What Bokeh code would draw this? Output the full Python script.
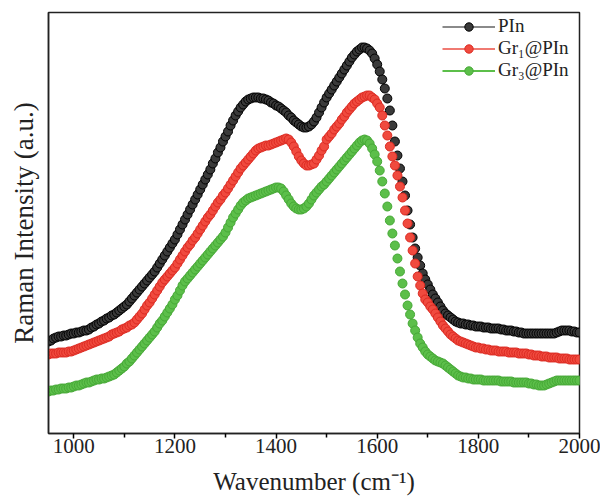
from bokeh.plotting import figure
from bokeh.models import Range1d, Legend, LegendItem, FixedTicker, ColumnDataSource
from bokeh.embed import file_html
from bokeh.resources import INLINE

# Wavenumber grid (cm^-1), one reading every 5 cm^-1
wavenumber = list(range(950, 2001, 5))

# Raman intensity (a.u.)
pin = [
    92, 93, 95, 96, 97, 97, 98, 98, 99, 100,
    100, 101, 101, 102, 103, 103, 104, 106, 107, 109,
    110, 112, 113, 115, 116, 118, 119, 121, 123, 125,
    127, 129, 132, 135, 138, 141, 144, 147, 150, 153,
    156, 159, 162, 166, 170, 174, 178, 182, 186, 190,
    194, 199, 204, 209, 214, 219, 224, 229, 234, 239,
    244, 249, 254, 259, 264, 270, 275, 281, 286, 292,
    297, 302, 308, 313, 318, 322, 326, 329, 332, 334,
    335, 336, 336, 336, 335, 335, 334, 333, 331, 330,
    328, 327, 325, 323, 321, 318, 316, 313, 311, 309,
    307, 306, 306, 307, 309, 312, 316, 321, 326, 331,
    336, 340, 344, 348, 352, 356, 360, 364, 368, 372,
    376, 379, 382, 384, 386, 386, 385, 383, 380, 375,
    369, 362, 354, 345, 335, 323, 308, 292, 278, 265,
    252, 238, 223, 209, 196, 185, 176, 168, 160, 154,
    149, 144, 139, 135, 131, 127, 123, 120, 118, 116,
    114, 112, 111, 110, 110, 109, 109, 108, 108, 107,
    107, 107, 106, 106, 106, 105, 105, 105, 105, 104,
    104, 103, 103, 103, 102, 102, 101, 101, 100, 100,
    100, 100, 100, 100, 100, 100, 100, 100, 100, 100,
    100, 101, 102, 103, 103, 103, 103, 102, 102, 101,
    101,
]

gr1_pin = [
    79, 80, 80, 80, 81, 81, 81, 81, 82, 82,
    83, 84, 85, 86, 87, 88, 89, 90, 91, 92,
    93, 94, 95, 96, 97, 99, 100, 101, 102, 104,
    105, 106, 108, 109, 111, 114, 117, 120, 124, 128,
    131, 135, 139, 143, 147, 151, 154, 157, 160, 163,
    166, 170, 174, 178, 182, 186, 189, 193, 196, 200,
    204, 208, 212, 216, 219, 223, 227, 231, 234, 238,
    241, 245, 249, 253, 257, 261, 265, 268, 271, 274,
    277, 280, 283, 285, 286, 287, 288, 288, 289, 290,
    291, 292, 293, 294, 295, 294, 291, 287, 282, 277,
    273, 270, 268, 268, 269, 270, 274, 278, 283, 287,
    294, 297, 300, 304, 307, 310, 314, 317, 321, 324,
    327, 330, 332, 334, 336, 337, 338, 338, 336, 334,
    330, 326, 318, 308, 298, 287, 277, 268, 258, 247,
    236, 223, 210, 196, 183, 170, 157, 148, 140, 134,
    131, 127, 124, 120, 116, 112, 108, 105, 102, 99,
    97, 95, 93, 92, 91, 90, 89, 88, 87, 86,
    86, 85, 85, 84, 84, 83, 83, 83, 82, 82,
    82, 82, 81, 81, 81, 81, 80, 80, 80, 80,
    79, 79, 78, 78, 78, 77, 77, 77, 76, 76,
    76, 76, 75, 75, 75, 75, 74, 74, 74, 74,
    74,
]

gr3_pin = [
    42, 43, 43, 44, 44, 45, 45, 45, 46, 46,
    47, 48, 48, 49, 50, 51, 51, 52, 53, 54,
    54, 55, 55, 56, 57, 58, 59, 61, 63, 65,
    67, 70, 72, 75, 78, 81, 84, 87, 90, 93,
    96, 99, 102, 106, 110, 113, 117, 121, 125, 129,
    134, 138, 143, 148, 152, 155, 158, 161, 164, 167,
    170, 173, 176, 179, 182, 185, 188, 191, 194, 197,
    201, 206, 211, 216, 220, 224, 228, 231, 233, 235,
    236, 237, 238, 239, 240, 241, 242, 243, 244, 245,
    246, 246, 245, 242, 238, 234, 230, 227, 225, 224,
    224, 225, 227, 230, 234, 238, 241, 244, 247, 249,
    252, 255, 258, 261, 264, 267, 270, 273, 276, 279,
    282, 285, 288, 291, 293, 294, 293, 290, 285, 279,
    272, 263, 252, 240, 227, 213, 200, 188, 175, 162,
    150, 139, 128, 119, 110, 103, 96, 90, 86, 82,
    79, 77, 75, 73, 72, 71, 70, 68, 66, 64,
    62, 60, 58, 57, 56, 56, 55, 55, 54, 54,
    54, 54, 53, 53, 53, 53, 53, 53, 53, 52,
    52, 52, 52, 52, 51, 51, 51, 51, 51, 51,
    50, 50, 49, 49, 48, 48, 48, 49, 50, 51,
    52, 53, 53, 53, 53, 53, 53, 53, 53, 53,
    53,
]

series_labels = ["PIn", "Gr\u2081@PIn", "Gr\u2083@PIn"]
x_ticks = [1000, 1200, 1400, 1600, 1800, 2000]
x_minor_ticks = [1100, 1300, 1500, 1700, 1900]

SERIF = "Liberation Serif"

p = figure(width=600, height=500, output_backend="svg", toolbar_location=None,
           x_range=Range1d(950, 2000), y_range=Range1d(0, 421),
           min_border_left=48, min_border_right=21, min_border_top=12,
           min_border_bottom=67)
p.grid.visible = False
p.outline_line_color = "#222222"
p.outline_line_width = 1.5
p.background_fill_color = "white"

# x axis
xa = p.xaxis[0]
xa.ticker = FixedTicker(ticks=x_ticks, minor_ticks=x_minor_ticks)
xa.axis_label = "Wavenumber (cm\u207b\u00b9)"
xa.axis_label_text_font = SERIF
xa.axis_label_text_font_style = "normal"
xa.axis_label_text_font_size = "25px"
xa.axis_label_text_color = "#222222"
xa.axis_label_standoff = 12
xa.major_label_text_font = SERIF
xa.major_label_text_font_size = "21px"
xa.major_label_text_color = "#222222"
xa.major_label_standoff = 0
xa.major_tick_in = 0
xa.major_tick_out = 5
xa.minor_tick_in = 0
xa.minor_tick_out = 4
xa.axis_line_width = 1.5
xa.axis_line_color = "#222222"
xa.major_tick_line_width = 1.5
xa.minor_tick_line_width = 1.5

# y axis
ya = p.yaxis[0]
ya.ticker = FixedTicker(ticks=[])
ya.major_label_text_font_size = "0px"
ya.major_tick_in = 0
ya.major_tick_out = 0
ya.minor_tick_in = 0
ya.minor_tick_out = 0
ya.axis_label = "Raman Intensity (a.u.)"
ya.axis_label_text_font = SERIF
ya.axis_label_text_font_style = "normal"
ya.axis_label_text_font_size = "27px"
ya.axis_label_text_color = "#222222"
ya.axis_label_standoff = 10
ya.axis_line_width = 1.5
ya.axis_line_color = "#222222"

styles = [
    dict(fill="#3a3a3a", line="#000000", leg="#8a8a8a"),
    dict(fill="#f04a3e", line="#dc2a22", leg="#f07a72"),
    dict(fill="#5cbf4a", line="#46a836", leg="#5cbf4a"),
]
data = [pin, gr1_pin, gr3_pin]

items = []
for vals, st, lab in zip(data, styles, series_labels):
    src = ColumnDataSource(dict(x=wavenumber, y=vals))
    r = p.scatter("x", "y", source=src, marker="circle", size=9,
                  fill_color=st["fill"], line_color=st["line"], line_width=1)
    lr = p.line(x=[float("nan")], y=[float("nan")], line_color=st["leg"], line_width=2)
    items.append(LegendItem(label=lab, renderers=[lr, r]))

legend = Legend(items=items, location=(394, 352), border_line_color=None,
                background_fill_alpha=0, padding=0, margin=0, spacing=0,
                glyph_width=53, glyph_height=21, label_height=21,
                label_standoff=3, label_text_font=SERIF,
                label_text_font_size="19px", label_text_color="#222222")
p.add_layout(legend)

open("out.html", "w").write(file_html(p, INLINE))
